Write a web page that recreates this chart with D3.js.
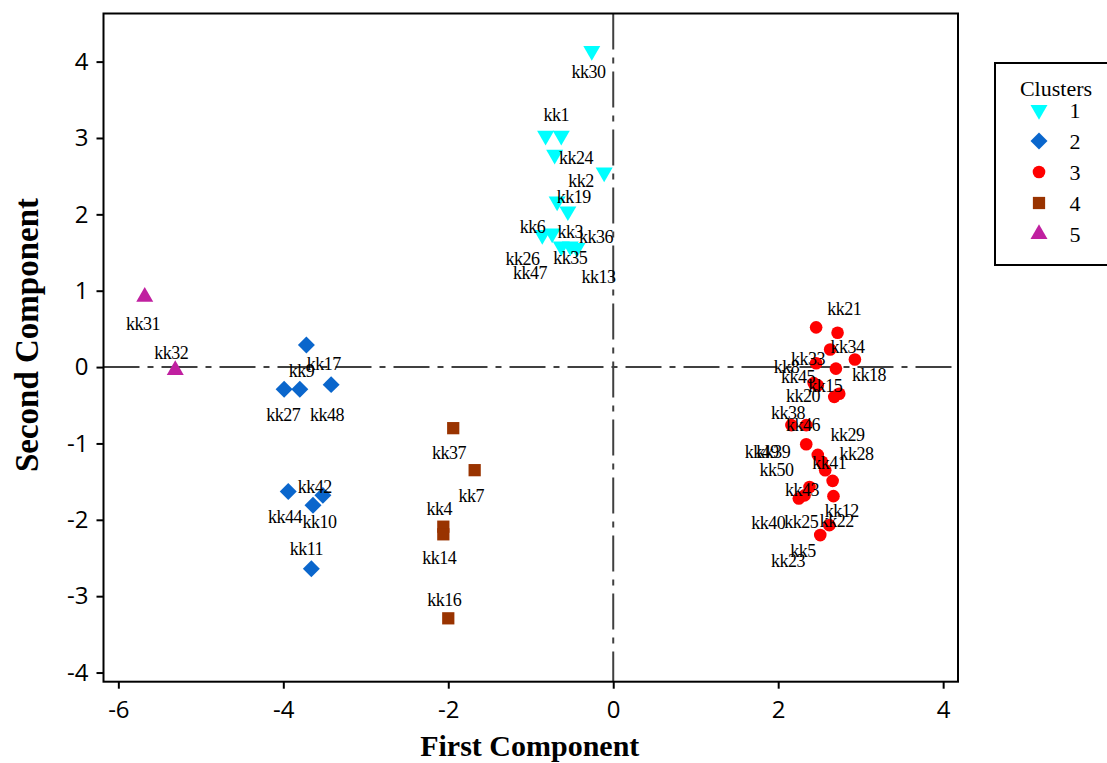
<!DOCTYPE html>
<html>
<head>
<meta charset="utf-8">
<script src="https://cdn.jsdelivr.net/npm/d3@7"></script>
<style>
  body { margin: 0; background: #fff; }
  svg { display: block; }
</style>
</head>
<body>
<svg id="chart" width="1107" height="763"></svg>
<script>
// ---- data ----
// cluster 1
const names1 = ["kk30", "kk1", "kk24", "kk2", "kk19", "kk3", "kk36", "kk6", "kk26", "kk35", "kk47", "kk13"];
const x1 = [-0.26, -0.82, -0.63, -0.11, -0.71, -0.68, -0.55, -0.86, -0.74, -0.63, -0.52, -0.44];
const y1 = [4.14, 3.03, 3.03, 2.55, 2.78, 2.17, 2.04, 1.73, 1.75, 1.58, 1.58, 1.56];
const lx1 = [-0.30, -0.69, -0.45, -0.39, -0.48, -0.52, -0.21, -0.98, -1.10, -0.52, -1.01, -0.18];
const ly1 = [3.87, 3.30, 2.74, 2.44, 2.23, 1.77, 1.71, 1.84, 1.42, 1.43, 1.23, 1.18];

// cluster 2
const names2 = ["kk9", "kk27", "kk17", "kk48", "kk44", "kk42", "kk10", "kk11"];
const x2 = [-3.72, -3.99, -3.80, -3.42, -3.94, -3.52, -3.64, -3.66];
const y2 = [0.29, -0.29, -0.29, -0.23, -1.63, -1.68, -1.81, -2.64];
const lx2 = [-3.78, -4.00, -3.51, -3.47, -3.98, -3.62, -3.56, -3.72];
const ly2 = [-0.05, -0.62, 0.04, -0.62, -1.96, -1.56, -2.03, -2.38];

// cluster 3
const names3 = ["kk21", "kk34", "kk5", "kk18", "kk33", "kk23", "kk15", "kk8", "kk20", "kk45", "kk38", "kk46",
    "kk49", "kk29", "kk41", "kk39", "kk28", "kk50", "kk43", "kk40", "kk12", "kk22", "kk25"];
const x3 = [2.46, 2.72, 2.63, 2.93, 2.46, 2.70, 2.48, 2.43, 2.68, 2.74, 2.16, 2.34,
    2.34, 2.48, 2.53, 2.57, 2.66, 2.38, 2.25, 2.32, 2.67, 2.62, 2.51];
const y3 = [0.52, 0.45, 0.23, 0.10, 0.05, -0.02, -0.24, -0.21, -0.39, -0.35, -0.76, -0.76,
    -1.01, -1.15, -1.24, -1.35, -1.49, -1.57, -1.72, -1.68, -1.69, -2.07, -2.20];
const lx3 = [2.80, 2.84, 2.30, 3.10, 2.36, 2.12, 2.57, 2.10, 2.30, 2.24, 2.12, 2.30,
    1.80, 2.84, 2.62, 1.94, 2.95, 1.98, 2.29, 1.88, 2.77, 2.71, 2.28];
const ly3 = [0.76, 0.27, -2.41, -0.10, 0.11, -2.54, -0.25, 0.00, -0.38, -0.12, -0.60, -0.76,
    -1.11, -0.89, -1.25, -1.11, -1.13, -1.35, -1.61, -2.04, -1.88, -2.01, -2.03];

// cluster 4
const names4 = ["kk37", "kk7", "kk4", "kk14", "kk16"];
const x4 = [-1.94, -1.68, -2.06, -2.06, -2.00];
const y4 = [-0.80, -1.35, -2.09, -2.19, -3.29];
const lx4 = [-1.99, -1.72, -2.11, -2.11, -2.05];
const ly4 = [-1.12, -1.68, -1.86, -2.49, -3.05];

// cluster 5
const names5 = ["kk31", "kk32"];
const x5 = [-5.68, -5.31];
const y5 = [0.92, -0.04];
const lx5 = [-5.70, -5.36];
const ly5 = [0.57, 0.19];

const clusterIds = ["1", "2", "3", "4", "5"];
const xTicks = [-6, -4, -2, 0, 2, 4];
const yTicks = [-4, -3, -2, -1, 0, 1, 2, 3, 4];

// ---- layout ----
var width = 1107, height = 763,
    margin = { left: 103.5, right: 149, top: 13.5, bottom: 81.3 };

var tickFont = "24px 'Open Sans', sans-serif",
    labelFont = "18px 'Liberation Serif', 'Times New Roman', serif",
    titleFont = "bold 30px 'Liberation Serif', 'Times New Roman', serif",
    yTitleFont = "bold 33px 'Liberation Serif', 'Times New Roman', serif",
    legendFont = "22px 'Liberation Serif', 'Times New Roman', serif";

// marker style per cluster
var styles = [
    { fill: "#00ffff", shape: d3.symbolTriangle, size: 125, rotate: 180 },
    { fill: "#0a66cc", shape: d3.symbolSquare, size: 144, rotate: 45 },
    { fill: "#ff0000", shape: d3.symbolCircle, size: 125, rotate: 0 },
    { fill: "#993300", shape: d3.symbolSquare, size: 150, rotate: 0 },
    { fill: "#c020a0", shape: d3.symbolTriangle, size: 125, rotate: 0 }
];

var clusters = [
    [names1, x1, y1, lx1, ly1],
    [names2, x2, y2, lx2, ly2],
    [names3, x3, y3, lx3, ly3],
    [names4, x4, y4, lx4, ly4],
    [names5, x5, y5, lx5, ly5]
].map(function (c, ci) {
    return c[0].map(function (n, i) {
        return { name: n, x: c[1][i], y: c[2][i], lx: c[3][i], ly: c[4][i], cluster: ci };
    });
});
var points = d3.merge(clusters);

var svg = d3.select("#chart");

var x = d3.scaleLinear().domain([-6.18, 4.18]).range([margin.left, width - margin.right]);
var y = d3.scaleLinear().domain([-4.12, 4.63]).range([height - margin.bottom, margin.top]);

// reference lines at 0
var refDash = "36,8,6,8";
svg.append("line")
    .attr("x1", x.range()[0]).attr("x2", x.range()[1])
    .attr("y1", y(0)).attr("y2", y(0))
    .attr("stroke", "#404040").attr("stroke-width", 2)
    .attr("stroke-dasharray", refDash);
svg.append("line")
    .attr("x1", x(0)).attr("x2", x(0))
    .attr("y1", y.range()[1]).attr("y2", y.range()[0])
    .attr("stroke", "#404040").attr("stroke-width", 2)
    .attr("stroke-dasharray", refDash);

// axes
var xAxis = svg.append("g")
    .attr("transform", "translate(0," + y.range()[0] + ")")
    .call(d3.axisBottom(x).tickValues(xTicks).tickSize(7).tickSizeOuter(0).tickPadding(12)
        .tickFormat(d3.format("d")));
var yAxis = svg.append("g")
    .attr("transform", "translate(" + x.range()[0] + ",0)")
    .call(d3.axisLeft(y).tickValues(yTicks).tickSize(7).tickSizeOuter(0).tickPadding(8)
        .tickFormat(d3.format("d")));

[xAxis, yAxis].forEach(function (g) {
    g.select(".domain").remove();
    g.selectAll(".tick line").attr("stroke", "#000").attr("stroke-width", 2);
    g.selectAll(".tick text").style("font", tickFont).attr("fill", "#000")
        .text(function (d) { return String(d).replace("\u2212", "-"); });
});

// plot frame
svg.append("rect")
    .attr("x", x.range()[0]).attr("y", y.range()[1])
    .attr("width", x.range()[1] - x.range()[0])
    .attr("height", y.range()[0] - y.range()[1])
    .attr("fill", "none").attr("stroke", "#000").attr("stroke-width", 2);

// markers
var symbolPath = function (d) {
    var s = styles[d.cluster];
    return d3.symbol().type(s.shape).size(s.size)();
};
svg.append("g").attr("class", "points")
    .selectAll("path")
    .data(points).enter()
    .append("path")
    .attr("d", symbolPath)
    .attr("transform", function (d) {
        return "translate(" + x(d.x) + "," + y(d.y) + ") rotate(" + styles[d.cluster].rotate + ")";
    })
    .attr("fill", function (d) { return styles[d.cluster].fill; });

// point labels
svg.append("g").attr("class", "labels")
    .selectAll("text")
    .data(points).enter()
    .append("text")
    .attr("x", function (d) { return x(d.lx); })
    .attr("y", function (d) { return y(d.ly); })
    .attr("dy", "0.35em")
    .attr("text-anchor", "middle")
    .style("font", labelFont)
    .style("letter-spacing", "-0.5px")
    .attr("fill", "#000")
    .text(function (d) { return d.name; });

// axis titles
svg.append("text")
    .attr("x", (x.range()[0] + x.range()[1]) / 2 - 1)
    .attr("y", 756)
    .attr("text-anchor", "middle")
    .style("font", titleFont)
    .text("First Component");
svg.append("text")
    .attr("transform", "translate(38," + 335 + ") rotate(-90)")
    .attr("text-anchor", "middle")
    .style("font", yTitleFont)
    .text("Second Component");

// legend
var lg = svg.append("g").attr("transform", "translate(995,63)");
lg.append("rect")
    .attr("width", 130).attr("height", 202)
    .attr("fill", "#fff").attr("stroke", "#000").attr("stroke-width", 2);
lg.append("text")
    .attr("x", 61).attr("y", 25).attr("dy", "0.35em")
    .attr("text-anchor", "middle")
    .style("font", legendFont)
    .text("Clusters");
var rows = lg.selectAll(".legend-row")
    .data(clusterIds).enter()
    .append("g").attr("class", "legend-row")
    .attr("transform", function (d, i) { return "translate(0," + (47 + i * 31) + ")"; });
rows.append("path")
    .attr("d", function (d, i) { return d3.symbol().type(styles[i].shape).size(styles[i].size)(); })
    .attr("transform", function (d, i) { return "translate(44,0) rotate(" + styles[i].rotate + ")"; })
    .attr("fill", function (d, i) { return styles[i].fill; });
rows.append("text")
    .attr("x", 80).attr("dy", "0.35em")
    .attr("text-anchor", "middle")
    .style("font", legendFont)
    .text(function (d) { return d; });
</script>
</body>
</html>
